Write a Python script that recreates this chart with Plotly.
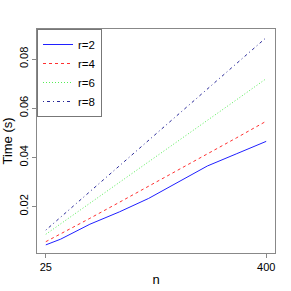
import plotly.graph_objects as go

n = [25, 50, 100, 150, 200, 250, 300, 350, 400]
r2 = [0.0044, 0.0067, 0.0128, 0.0178, 0.0233, 0.0300, 0.0365, 0.0415, 0.0465]
r4 = [0.0057, 0.0088, 0.0152, 0.0217, 0.0282, 0.0350, 0.0415, 0.0480, 0.0547]
r6 = [0.0087, 0.0129, 0.0212, 0.0297, 0.0382, 0.0466, 0.0551, 0.0635, 0.0720]
r8 = [0.0104, 0.0156, 0.0261, 0.0365, 0.0470, 0.0574, 0.0678, 0.0783, 0.0887]
series_names = ["r=2", "r=4", "r=6", "r=8"]
x_ticks = [25, 400]
y_ticks = [0.02, 0.04, 0.06, 0.08]

styles = [("#2020ff", "solid"), ("#ff3030", "3px,3px"),
          ("#55ee55", "1px,2px"), ("#2a2a99", "1px,3px,3px,3px")]

fig = go.Figure()
for name, ys, (c, d) in zip(series_names, [r2, r4, r6, r8], styles):
    fig.add_trace(go.Scatter(x=n, y=ys, mode="lines", name=name,
                             line=dict(color=c, dash=d, width=1)))

font = dict(family="Liberation Sans, Arial, sans-serif", size=11, color="#000")
fig.update_layout(
    width=291, height=291,
    margin=dict(l=37, r=16, t=29, b=38),
    paper_bgcolor="white", plot_bgcolor="white",
    font=font,
    showlegend=True,
    legend=dict(x=0, y=1, xanchor="left", yanchor="top",
                bordercolor="#777", borderwidth=1, bgcolor="white",
                font=dict(size=11.5), itemwidth=30, tracegroupgap=0),
    xaxis=dict(range=[10, 415], tickvals=x_ticks, ticktext=[str(v) for v in x_ticks],
               showgrid=False, zeroline=False, showline=True, mirror=True,
               linecolor="#888", linewidth=1, ticks="outside", ticklen=4,
               tickcolor="#888", automargin=False,
               title=dict(text="n", standoff=2)),
    yaxis=dict(range=[0.0011, 0.0922], tickvals=y_ticks,
               ticktext=[f"{v:.2f}" for v in y_ticks], tickangle=-90,
               showgrid=False, zeroline=False, showline=True, mirror=True,
               linecolor="#888", linewidth=1, ticks="outside", ticklen=4,
               tickcolor="#888", automargin=False,
               title=dict(text="Time (s)", standoff=2)),
)
fig.write_html("out.html", config={"displayModeBar": False},
               post_script="document.body.style.margin='0';document.documentElement.style.overflow='hidden';")
